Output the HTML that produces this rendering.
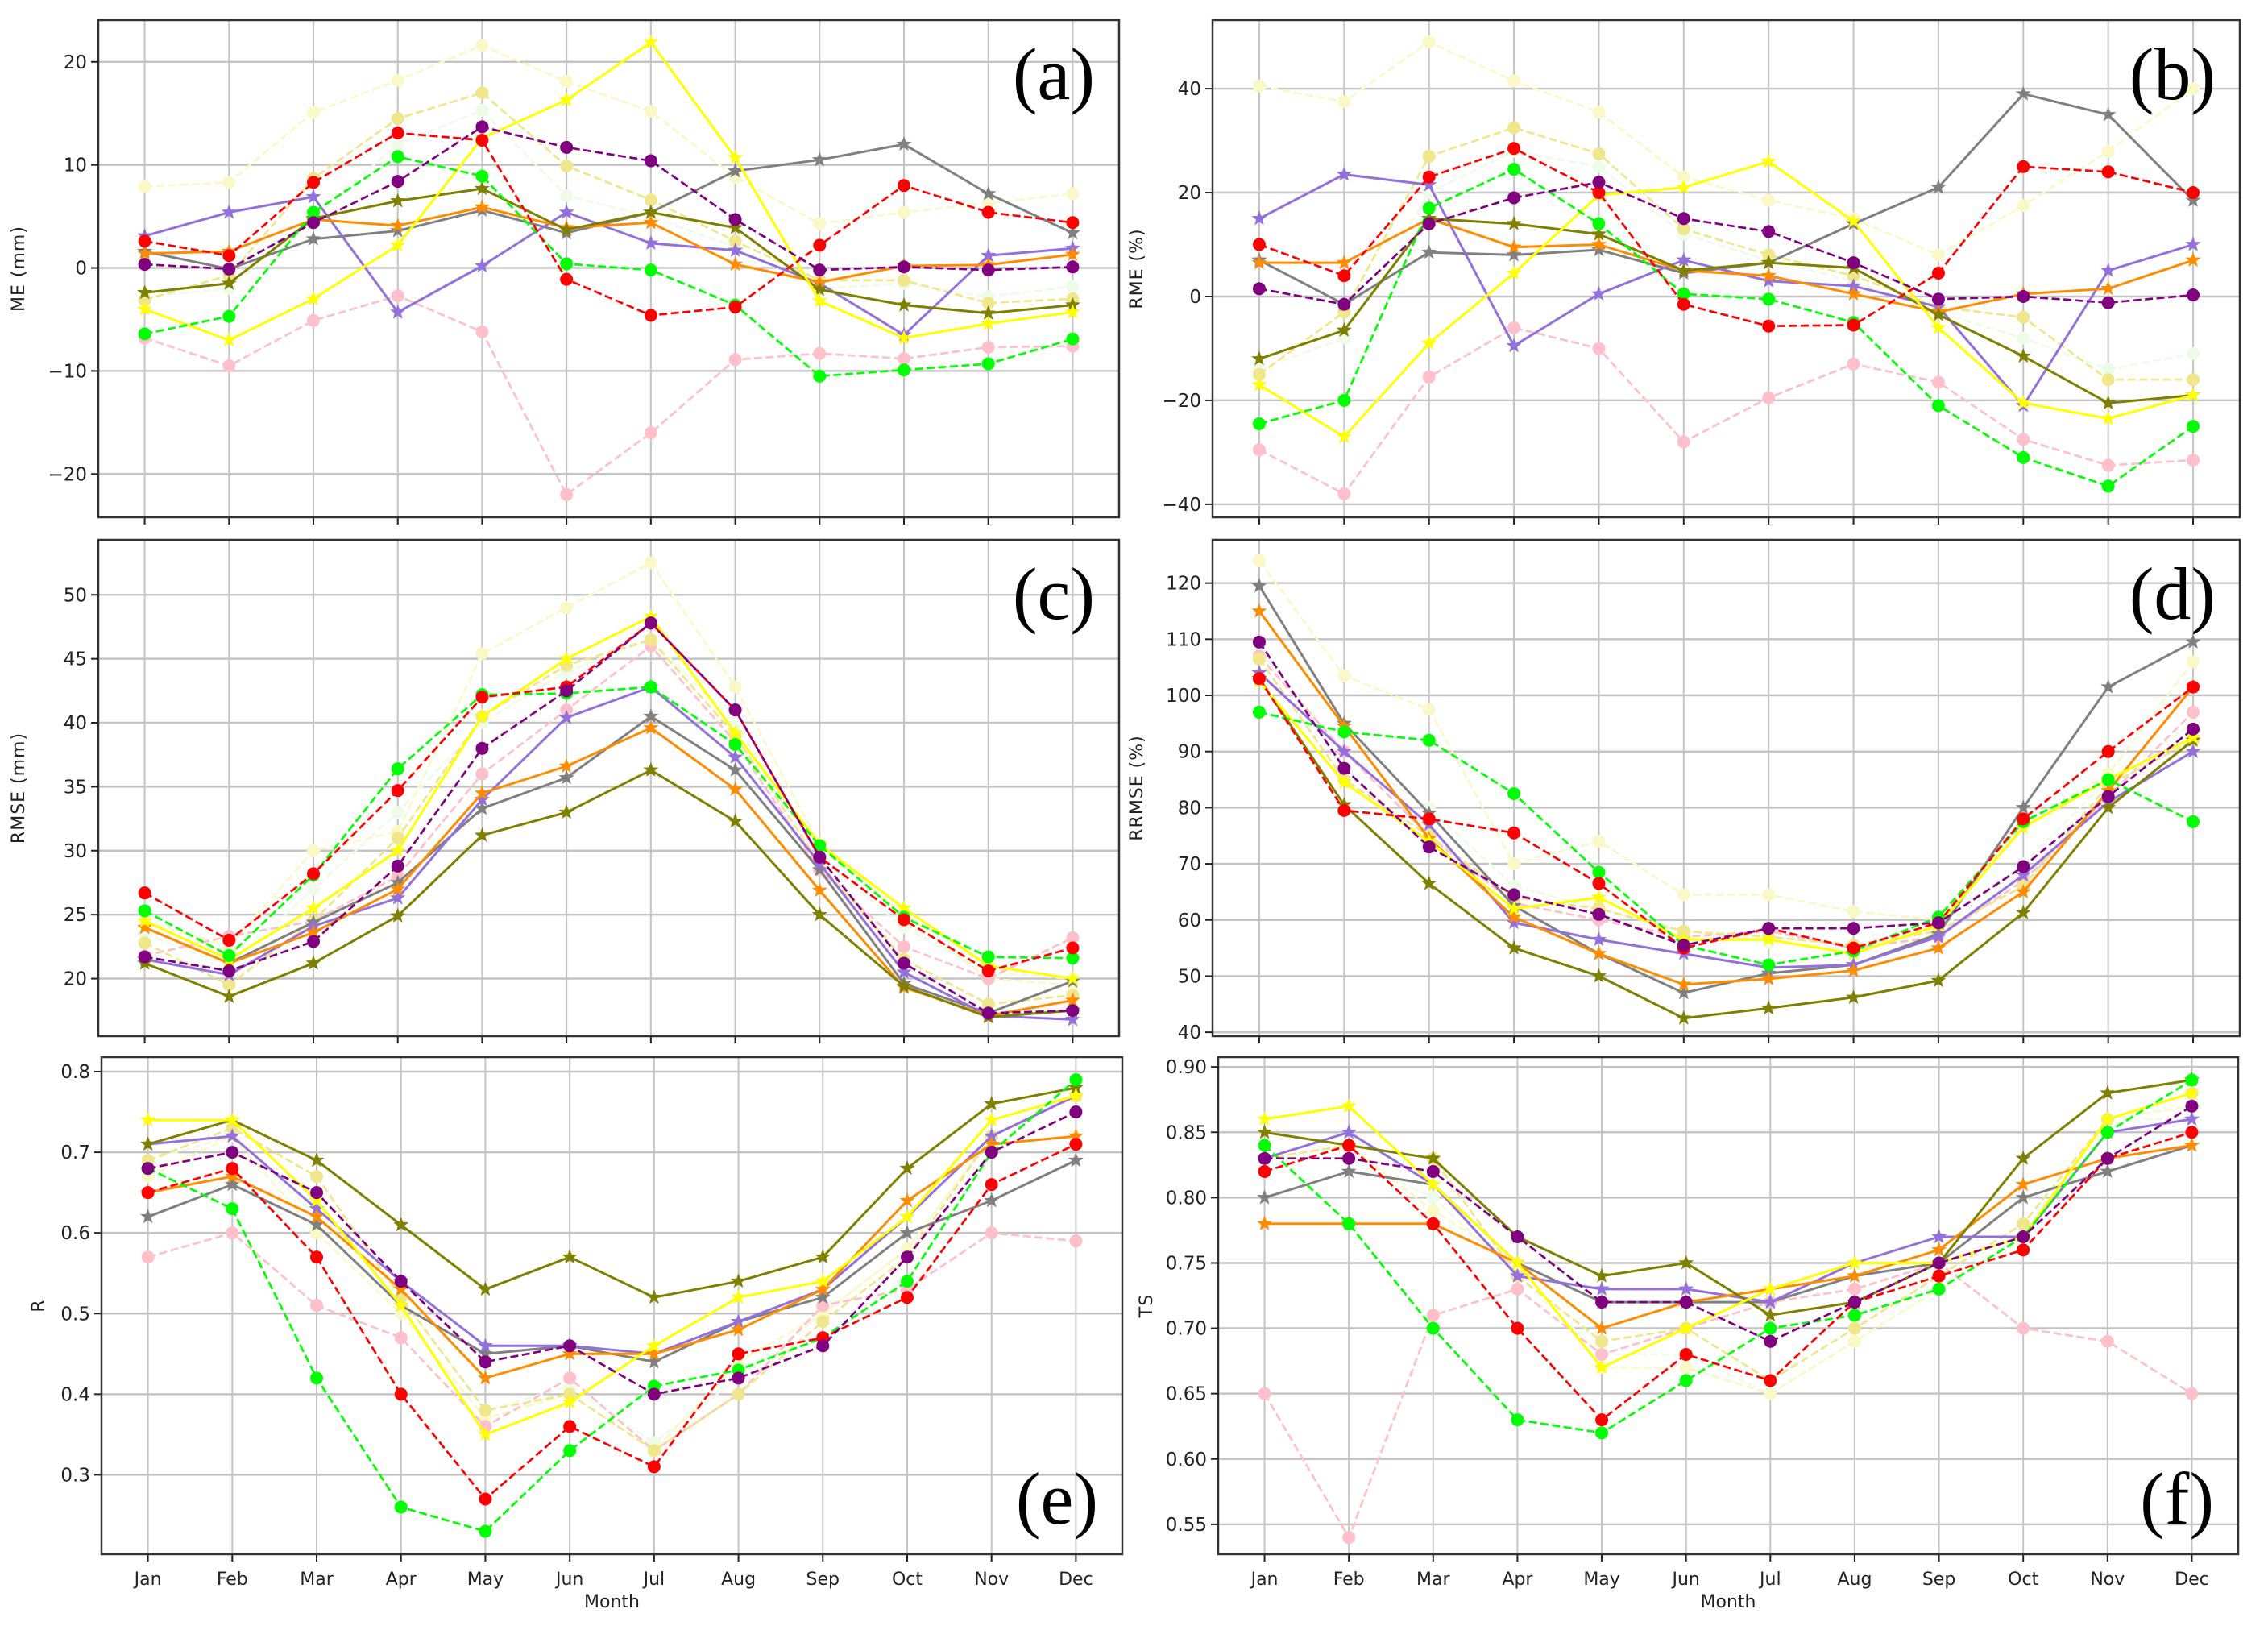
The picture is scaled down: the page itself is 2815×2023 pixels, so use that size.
<!DOCTYPE html>
<html><head><meta charset="utf-8"><style>
html,body{margin:0;padding:0;background:#fff;}
svg{display:block;}
</style></head><body>
<svg id="fig" width="2815" height="2023" xmlns="http://www.w3.org/2000/svg"></svg>
<script>
const months=["Jan","Feb","Mar","Apr","May","Jun","Jul","Aug","Sep","Oct","Nov","Dec"];
// Panel (a) ME
const a_red=[2.6,1.2,8.3,13.1,12.4,-1.1,-4.6,-3.8,2.2,8.0,5.4,4.4];
const a_purple=[0.35,-0.1,4.4,8.4,13.7,11.7,10.4,4.7,-0.2,0.1,-0.2,0.1];
const a_lime=[-6.4,-4.7,5.4,10.8,8.9,0.4,-0.2,-3.6,-10.5,-9.9,-9.3,-6.9];
const a_pink=[-6.8,-9.5,-5.1,-2.7,-6.2,-22,-16,-8.9,-8.3,-8.8,-7.7,-7.6];
const a_khaki=[-3.1,-0.7,8.7,14.5,17.0,9.9,6.6,2.6,-1.2,-1.2,-3.4,-3.0];
const a_lyellow=[7.9,8.3,15.1,18.2,21.6,18.1,15.2,8.8,4.3,5.4,6.3,7.2];
const a_honeydew=[-2.8,-2,5,12,15.3,7,5,2,-2,-1.5,-2.8,-1.8];
const a_yellow=[-4.0,-7.0,-3.0,2.2,12.6,16.3,21.9,10.7,-3.2,-6.8,-5.4,-4.3];
const a_olive=[-2.4,-1.5,4.8,6.5,7.7,3.7,5.4,3.9,-2.1,-3.6,-4.4,-3.6];
const a_gray=[1.6,-0.1,2.8,3.6,5.6,3.4,5.4,9.4,10.5,12.0,7.2,3.4];
const a_mpurple=[3.1,5.4,6.9,-4.3,0.2,5.4,2.4,1.7,-1.5,-6.5,1.2,1.9];
const a_orange=[1.4,1.6,4.7,4.1,5.9,3.9,4.4,0.35,-1.4,0.2,0.3,1.3];
// Panel (b) RME
const b_red=[10,4,23,28.5,20,-1.5,-5.7,-5.5,4.5,25,24,20];
const b_purple=[1.5,-1.5,14,19,22,15,12.5,6.5,-0.5,0,-1.2,0.3];
const b_lime=[-24.5,-20,17,24.5,14,0.5,-0.5,-5,-21,-31,-36.5,-25];
const b_pink=[-29.5,-38,-15.5,-6,-10,-28,-19.5,-13,-16.5,-27.5,-32.5,-31.5];
const b_khaki=[-15,-3,27,32.5,27.5,13,8,4,-2,-4,-16,-16];
const b_lyellow=[40.5,37.5,49,41.5,35.5,23,18.5,15,8,17.5,28,40];
const b_honeydew=[-14,-8,20,28,25,12,7,3,-3,-8,-14,-11];
const b_yellow=[-17,-27,-9,4.5,19.5,21,26,14.5,-6,-20.5,-23.5,-19];
const b_olive=[-12,-6.5,15,14,12,5,6.5,5.5,-3.5,-11.5,-20.5,-19];
const b_gray=[7,-1.5,8.5,8,9,4.5,6.5,14,21,39,35,18.5];
const b_mpurple=[15,23.5,21.5,-9.5,0.5,7,3,2,-2,-21,5,10];
const b_orange=[6.5,6.5,15,9.5,10,5,4,0.5,-3,0.5,1.5,7];
// Panel (c) RMSE
const c_red=[26.7,23,28.2,34.7,42,42.8,47.8,41,29.5,24.6,20.6,22.4];
const c_purple=[21.7,20.6,22.9,28.8,38,42.5,47.8,41,29.5,21.2,17.3,17.5];
const c_lime=[25.3,21.8,28.1,36.4,42.2,42.3,42.8,38.3,30.4,24.8,21.7,21.6];
const c_pink=[21.8,23.3,24.5,28,36,41,46,38.5,28.5,22.5,20,23.2];
const c_khaki=[22.8,19.5,24.5,31,40.5,44.5,46.5,39,29,21.5,18,18.7];
const c_lyellow=[24.5,22.5,30,31.5,45.4,49,52.5,42.8,30.5,25,20,19.5];
const c_honeydew=[23.5,21,27,33,40,44,46.5,40,29.5,24,20.5,20];
const c_yellow=[24.5,21.5,25.5,30,40.5,45,48.3,39.2,30.5,25.5,21,20];
const c_olive=[21.2,18.6,21.2,24.9,31.2,33,36.3,32.3,25,19.4,17,17.5];
const c_gray=[24,21.2,24.4,27.5,33.3,35.7,40.5,36.3,28.5,19.6,17.3,19.8];
const c_mpurple=[21.5,20.3,24.1,26.3,34,40.4,42.8,37.3,29,20.5,17.1,16.8];
const c_orange=[24,21.2,23.6,27,34.5,36.6,39.6,34.8,26.9,19.3,17.1,18.3];
// Panel (d) RRMSE
const d_red=[103,79.5,78,75.5,66.5,55,58.5,55,59.5,78,90,101.5];
const d_purple=[109.5,87,73,64.5,61,55.5,58.5,58.5,59.5,69.5,82,94];
const d_lime=[97,93.5,92,82.5,68.5,55.5,52,54.5,60.5,77.5,85,77.5];
const d_pink=[107,90,75,63,60,57,58,55,57,67,82,97];
const d_khaki=[106.5,85,75,64,62,58,57,55.5,58,66,84,92];
const d_lyellow=[124,103.5,97.5,70,74,64.5,64.5,61.5,60,77,86,106];
const d_honeydew=[108,90,80,66,62,58,56,55,58,70,85,95];
const d_yellow=[102.5,84.5,74,62,64,56.5,56.5,54,59,76.5,85,92.5];
const d_olive=[103,80.5,66.5,55,50,42.5,44.3,46.2,49.2,61.3,80,92];
const d_gray=[119.5,95,79,62.5,54,47,50.5,52,57.5,80,101.5,109.5];
const d_mpurple=[104,90,77,59.5,56.5,54,51.5,52,57,68,81,90];
const d_orange=[115,94.5,74.5,60.5,54,48.5,49.5,51,55,65,83,101.5];
// Panel (e) R
const e_red=[.65,.68,.57,.40,.27,.36,.31,.45,.47,.52,.66,.71];
const e_purple=[.68,.70,.65,.54,.44,.46,.40,.42,.46,.57,.70,.75];
const e_lime=[.68,.63,.42,.26,.23,.33,.41,.43,.47,.54,.70,.79];
const e_pink=[.57,.60,.51,.47,.36,.42,.33,.40,.51,.53,.60,.59];
const e_khaki=[.69,.73,.67,.52,.38,.40,.33,.40,.49,.57,.72,.77];
const e_lyellow=[.67,.72,.60,.50,.37,.40,.33,.44,.50,.58,.72,.77];
const e_honeydew=[.69,.72,.62,.52,.38,.41,.34,.42,.50,.58,.72,.77];
const e_yellow=[.74,.74,.64,.51,.35,.39,.46,.52,.54,.62,.74,.77];
const e_olive=[.71,.74,.69,.61,.53,.57,.52,.54,.57,.68,.76,.78];
const e_gray=[.62,.66,.61,.51,.45,.46,.44,.49,.52,.60,.64,.69];
const e_mpurple=[.71,.72,.63,.54,.46,.46,.45,.49,.53,.62,.72,.77];
const e_orange=[.65,.67,.62,.53,.42,.45,.45,.48,.53,.64,.71,.72];
// Panel (f) TS
const f_red=[.82,.84,.78,.70,.63,.68,.66,.72,.74,.76,.83,.85];
const f_purple=[.83,.83,.82,.77,.72,.72,.69,.72,.75,.77,.83,.87];
const f_lime=[.84,.78,.70,.63,.62,.66,.70,.71,.73,.77,.85,.89];
const f_pink=[.65,.54,.71,.73,.68,.70,.72,.73,.75,.70,.69,.65];
const f_khaki=[.83,.84,.83,.74,.69,.70,.66,.70,.74,.78,.86,.88];
const f_lyellow=[.83,.84,.79,.75,.67,.67,.65,.69,.73,.77,.86,.87];
const f_honeydew=[.83,.83,.80,.74,.68,.68,.65,.69,.73,.77,.86,.86];
const f_yellow=[.86,.87,.81,.75,.67,.70,.73,.75,.75,.77,.86,.88];
const f_olive=[.85,.84,.83,.77,.74,.75,.71,.72,.75,.83,.88,.89];
const f_gray=[.80,.82,.81,.75,.72,.72,.72,.74,.75,.80,.82,.84];
const f_mpurple=[.83,.85,.81,.74,.73,.73,.72,.75,.77,.77,.85,.86];
const f_orange=[.78,.78,.78,.75,.70,.72,.73,.74,.76,.81,.83,.84];

const a_ticks=[-20,-10,0,10,20];
const b_ticks=[-40,-20,0,20,40];
const c_ticks=[20,25,30,35,40,45,50];
const d_ticks=[40,50,60,70,80,90,100,110,120];
const e_ticks=[0.3,0.4,0.5,0.6,0.7,0.8];
const f_ticks=[0.55,0.60,0.65,0.70,0.75,0.80,0.85,0.90];

const styles=[
 {k:"honeydew",c:"#eefbe8",d:true,m:"o"},
 {k:"lyellow",c:"#fbf8c8",d:true,m:"o"},
 {k:"pink",c:"#ffc0cb",d:true,m:"o"},
 {k:"khaki",c:"#f0e68c",d:true,m:"o"},
 {k:"gray",c:"#808080",d:false,m:"s"},
 {k:"mpurple",c:"#9370db",d:false,m:"s"},
 {k:"orange",c:"#ff8c00",d:false,m:"s"},
 {k:"olive",c:"#808000",d:false,m:"s"},
 {k:"yellow",c:"#ffff00",d:false,m:"s"},
 {k:"lime",c:"#00ff00",d:true,m:"o"},
 {k:"red",c:"#ff0000",d:true,m:"o"},
 {k:"purple",c:"#800080",d:true,m:"o"}
];
const panels=[
 {id:"a",L:122,T:25,R:1389,B:642,y0:-24.2,y1:24.05,ticks:a_ticks,dec:0,yl:"ME (mm)",ylx:30,
  data:{red:a_red,purple:a_purple,lime:a_lime,pink:a_pink,khaki:a_khaki,lyellow:a_lyellow,honeydew:a_honeydew,yellow:a_yellow,olive:a_olive,gray:a_gray,mpurple:a_mpurple,orange:a_orange},top:true},
 {id:"b",L:1505,T:25,R:2780,B:642,y0:-42.5,y1:53.2,ticks:b_ticks,dec:0,yl:"RME (%)",ylx:1418,
  data:{red:b_red,purple:b_purple,lime:b_lime,pink:b_pink,khaki:b_khaki,lyellow:b_lyellow,honeydew:b_honeydew,yellow:b_yellow,olive:b_olive,gray:b_gray,mpurple:b_mpurple,orange:b_orange},top:true},
 {id:"c",L:122,T:670,R:1389,B:1286,y0:15.5,y1:54.3,ticks:c_ticks,dec:0,yl:"RMSE (mm)",ylx:30,
  data:{red:c_red,purple:c_purple,lime:c_lime,pink:c_pink,khaki:c_khaki,lyellow:c_lyellow,honeydew:c_honeydew,yellow:c_yellow,olive:c_olive,gray:c_gray,mpurple:c_mpurple,orange:c_orange},top:true},
 {id:"d",L:1505,T:670,R:2780,B:1286,y0:39.3,y1:127.7,ticks:d_ticks,dec:0,yl:"RRMSE (%)",ylx:1418,
  data:{red:d_red,purple:d_purple,lime:d_lime,pink:d_pink,khaki:d_khaki,lyellow:d_lyellow,honeydew:d_honeydew,yellow:d_yellow,olive:d_olive,gray:d_gray,mpurple:d_mpurple,orange:d_orange},top:true},
 {id:"e",L:126,T:1312,R:1393,B:1929,y0:0.2015,y1:0.818,ticks:e_ticks,dec:1,yl:"R",ylx:55,
  data:{red:e_red,purple:e_purple,lime:e_lime,pink:e_pink,khaki:e_khaki,lyellow:e_lyellow,honeydew:e_honeydew,yellow:e_yellow,olive:e_olive,gray:e_gray,mpurple:e_mpurple,orange:e_orange},top:false},
 {id:"f",L:1512,T:1312,R:2778,B:1929,y0:0.5271,y1:0.9075,ticks:f_ticks,dec:2,yl:"TS",ylx:1430,
  data:{red:f_red,purple:f_purple,lime:f_lime,pink:f_pink,khaki:f_khaki,lyellow:f_lyellow,honeydew:f_honeydew,yellow:f_yellow,olive:f_olive,gray:f_gray,mpurple:f_mpurple,orange:f_orange},top:false}
];
const NS="http://www.w3.org/2000/svg";
const svg=document.getElementById("fig");
function mk(tag,attrs,parent){const e=document.createElementNS(NS,tag);for(const k in attrs)e.setAttribute(k,attrs[k]);(parent||svg).appendChild(e);return e;}
function starPts(cx,cy,r){let p=[];for(let i=0;i<10;i++){const rr=i%2?r*0.42:r;const a=-Math.PI/2+i*Math.PI/5;p.push((cx+rr*Math.cos(a)).toFixed(1)+","+(cy+rr*Math.sin(a)).toFixed(1));}return p.join(" ");}
panels.forEach(p=>{
 const g=mk("g",{});
 
 
 const xs=i=>p.L+(p.R-p.L)*(i+0.55)/12.1;
 const ys=v=>p.B-(v-p.y0)/(p.y1-p.y0)*(p.B-p.T);
 const clip=mk("clipPath",{id:"clip"+p.id},g);
 mk("rect",{x:p.L,y:p.T,width:p.R-p.L,height:p.B-p.T},clip);
 months.forEach((m,i)=>{const l=mk("line",{x1:xs(i),x2:xs(i),y1:p.T,y2:p.B,stroke:"#c4c4c4","stroke-width":2},g);
  
  mk("line",{x1:xs(i),x2:xs(i),y1:p.B,y2:p.B+9,stroke:"#222","stroke-width":2},g);
  if(!p.top){
   const t=mk("text",{x:xs(i),y:p.B+38,"text-anchor":"middle","font-size":22,"font-family":"DejaVu Sans, Liberation Sans, sans-serif",fill:"#222"},g);
   t.textContent=m;
  }
 });
 p.ticks.forEach(v=>{const y=ys(v);const l=mk("line",{x1:p.L,x2:p.R,y1:y,y2:y,stroke:"#c4c4c4","stroke-width":2.5},g);
  
  mk("line",{x1:p.L-9,x2:p.L,y1:y,y2:y,stroke:"#222","stroke-width":2},g);
  const t=mk("text",{x:p.L-14,y:y+8,"text-anchor":"end","font-size":23,"font-family":"DejaVu Sans, Liberation Sans, sans-serif",fill:"#222"},g);
  t.textContent=v.toFixed(p.dec).replace("-","\u2212");
 });
 const yl=mk("text",{x:p.ylx,y:(p.T+p.B)/2,"text-anchor":"middle","font-size":22,"font-family":"DejaVu Sans, Liberation Sans, sans-serif",fill:"#222",transform:`rotate(-90 ${p.ylx} ${(p.T+p.B)/2})`,"letter-spacing":"1"},g);
 yl.textContent=p.yl;
 const sg=mk("g",{"clip-path":`url(#clip${p.id})`},g);
 styles.forEach(s=>{
  const vals=p.data[s.k];
  const pts=vals.map((v,i)=>xs(i).toFixed(1)+","+ys(v).toFixed(1)).join(" ");
  const ln=mk("polyline",{points:pts,fill:"none",stroke:s.c,"stroke-width":s.d?2.7:3,"stroke-dasharray":s.d?"10,4.5":"none","stroke-linejoin":"round"},sg);
  
  vals.forEach((v,i)=>{let mkr;
   if(s.m==="o") mkr=mk("circle",{cx:xs(i),cy:ys(v),r:8,fill:s.c},sg);
   else mkr=mk("polygon",{points:starPts(xs(i),ys(v),10),fill:s.c},sg);
   
  });
 });
 const fr=mk("rect",{x:p.L,y:p.T,width:p.R-p.L,height:p.B-p.T,fill:"none",stroke:"#333","stroke-width":2.5},g);
 
 const lab=mk("text",{x:p.R-30,y:p.top?p.T+98:p.B-38,"text-anchor":"end","font-size":92,"font-family":"Liberation Serif, serif",fill:"#000"},g);
 lab.textContent="("+p.id+")";
 if(!p.top){const mt=mk("text",{x:(p.L+p.R)/2,y:1995,"text-anchor":"middle","font-size":22,"font-family":"DejaVu Sans, Liberation Sans, sans-serif",fill:"#222"},g);
  mt.textContent="Month";}
});
</script>
</body></html>
